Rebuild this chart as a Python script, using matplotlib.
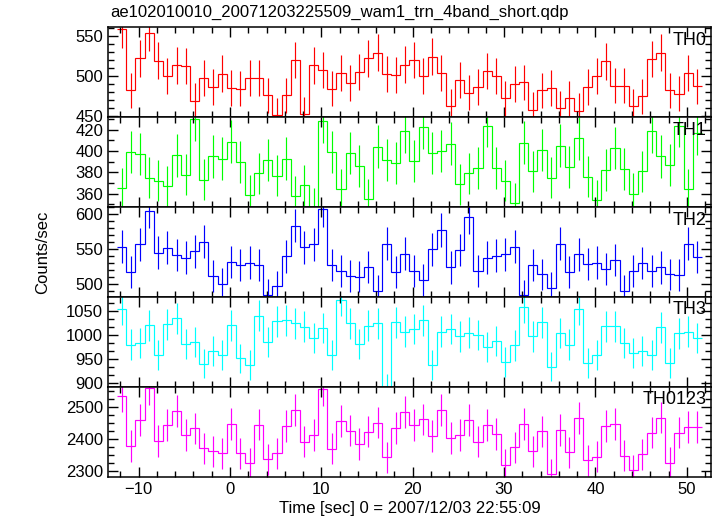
import numpy as np
import matplotlib
matplotlib.use("Agg")
import matplotlib.pyplot as plt
from matplotlib.ticker import MultipleLocator

plt.rcParams['font.family'] = ['Liberation Sans', 'DejaVu Sans']

title = "ae102010010_20071203225509_wam1_trn_4band_short.qdp"
xlabel = "Time [sec] 0 = 2007/12/03 22:55:09"
ylabel = "Counts/sec"

# time binning (1 s bins)
bin_start = -12.35
bin_width = 1.0

bands = ["TH0", "TH1", "TH2", "TH3", "TH0123"]
colors = ["#ff0000", "#00ff00", "#0000ff", "#00ffff", "#ff00ff"]

th0 = [558, 482, 522, 554, 519, 500, 513, 512, 469, 497, 486, 503, 485, 484, 497, 497,
       476, 451, 476, 520, 453, 513, 507, 484, 504, 491, 505, 522, 529, 502, 501, 514,
       520, 500, 524, 504, 462, 495, 479, 486, 506, 500, 472, 490, 492, 458, 482, 485,
       460, 472, 457, 486, 500, 518, 488, 488, 462, 475, 521, 529, 482, 478, 504, 487]
th1 = [365, 399, 397, 375, 372, 367, 396, 378, 430, 373, 395, 393, 409, 390, 359, 379,
       392, 377, 393, 358, 368, 347, 428, 399, 364, 398, 386, 355, 404, 392, 389, 419,
       391, 423, 398, 400, 407, 369, 379, 384, 424, 384, 372, 351, 408, 381, 401, 375,
       405, 385, 412, 376, 354, 382, 403, 383, 360, 381, 419, 395, 387, 424, 364, 417]
th2 = [554, 518, 557, 605, 545, 552, 542, 538, 547, 561, 512, 501, 532, 528, 531, 527,
       485, 497, 540, 584, 553, 557, 607, 527, 519, 512, 511, 525, 491, 558, 518, 544,
       519, 506, 550, 578, 524, 549, 596, 519, 538, 541, 543, 554, 484, 528, 514, 495,
       558, 518, 543, 529, 531, 522, 535, 491, 519, 530, 519, 524, 514, 513, 558, 539]
th3 = [1055, 981, 984, 1021, 959, 1023, 1036, 982, 987, 941, 968, 960, 1021, 952, 938, 1041,
       986, 1029, 1031, 1025, 1018, 994, 1015, 960, 1073, 1025, 982, 1020, 1025, 890, 1027, 1008,
       1013, 1031, 938, 1008, 1013, 998, 1006, 1001, 975, 989, 945, 979, 1059, 998, 1027, 935,
       1005, 981, 1055, 943, 960, 1019, 1019, 984, 963, 967, 960, 1017, 943, 1004, 1008, 994]
th0123 = [2535, 2379, 2460, 2559, 2395, 2445, 2488, 2413, 2434, 2372, 2362, 2357, 2448, 2357, 2325, 2446,
          2338, 2357, 2442, 2491, 2392, 2413, 2556, 2370, 2458, 2427, 2385, 2424, 2452, 2344, 2436, 2485,
          2445, 2462, 2410, 2492, 2404, 2413, 2460, 2392, 2444, 2417, 2320, 2375, 2447, 2363, 2425, 2291,
          2429, 2359, 2467, 2335, 2345, 2442, 2448, 2349, 2304, 2353, 2421, 2468, 2327, 2421, 2438, 2438]
series = [th0, th1, th2, th3, th0123]

ylims = [(448.7, 560.5), (347.4, 431.9), (481.9, 610.4), (893, 1080), (2283, 2564)]
ymajor = [50, 20, 50, 50, 100]
yminor = [10, 10, 10, 50 / 3, 25]

nbins = len(th0)
edges = bin_start + bin_width * np.arange(nbins + 1)
centers = edges[:-1] + bin_width / 2

fig = plt.figure(figsize=(7.17, 5.16), dpi=100)
gs = fig.add_gridspec(5, 1, left=108 / 717, right=711 / 717, top=1 - 27.3 / 516,
                      bottom=1 - 476.7 / 516, hspace=0)
axes = []
for i in range(5):
    ax = fig.add_subplot(gs[i, 0], sharex=axes[0] if axes else None)
    vals = np.array(series[i], dtype=float)
    ax.stairs(vals, edges, baseline=None, color=colors[i], lw=0.85)
    ax.errorbar(centers, vals, yerr=np.sqrt(vals), fmt='none', ecolor=colors[i],
                elinewidth=0.85, capsize=0)
    ax.set_ylim(*ylims[i])
    ax.set_xlim(-13.35, 52.65)
    ax.yaxis.set_major_locator(MultipleLocator(ymajor[i]))
    ax.yaxis.set_minor_locator(MultipleLocator(yminor[i]))
    ax.xaxis.set_major_locator(MultipleLocator(10))
    ax.xaxis.set_minor_locator(MultipleLocator(2))
    ax.tick_params(which='both', direction='in', top=True, right=True, labelsize=12,
                   width=1.0)
    ax.tick_params(which='major', length=7)
    ax.tick_params(which='minor', length=4)
    for s in ax.spines.values():
        s.set_linewidth(1.1)
    ax.text(0.992, 0.95, bands[i], transform=ax.transAxes, ha='right', va='top',
            fontsize=13)
    if i < 4:
        ax.tick_params(labelbottom=False)
    axes.append(ax)

axes[-1].set_xlabel(xlabel, fontsize=12, labelpad=3)
fig.text(0.06, (1 - 27.3 / 516 + 1 - 476.7 / 516) / 2, ylabel, rotation=90,
         ha='center', va='center', fontsize=12)
fig.text(110 / 717, 1 - 12 / 516, title, ha='left', va='center', fontsize=12)

fig.savefig("out.png", dpi=100)
